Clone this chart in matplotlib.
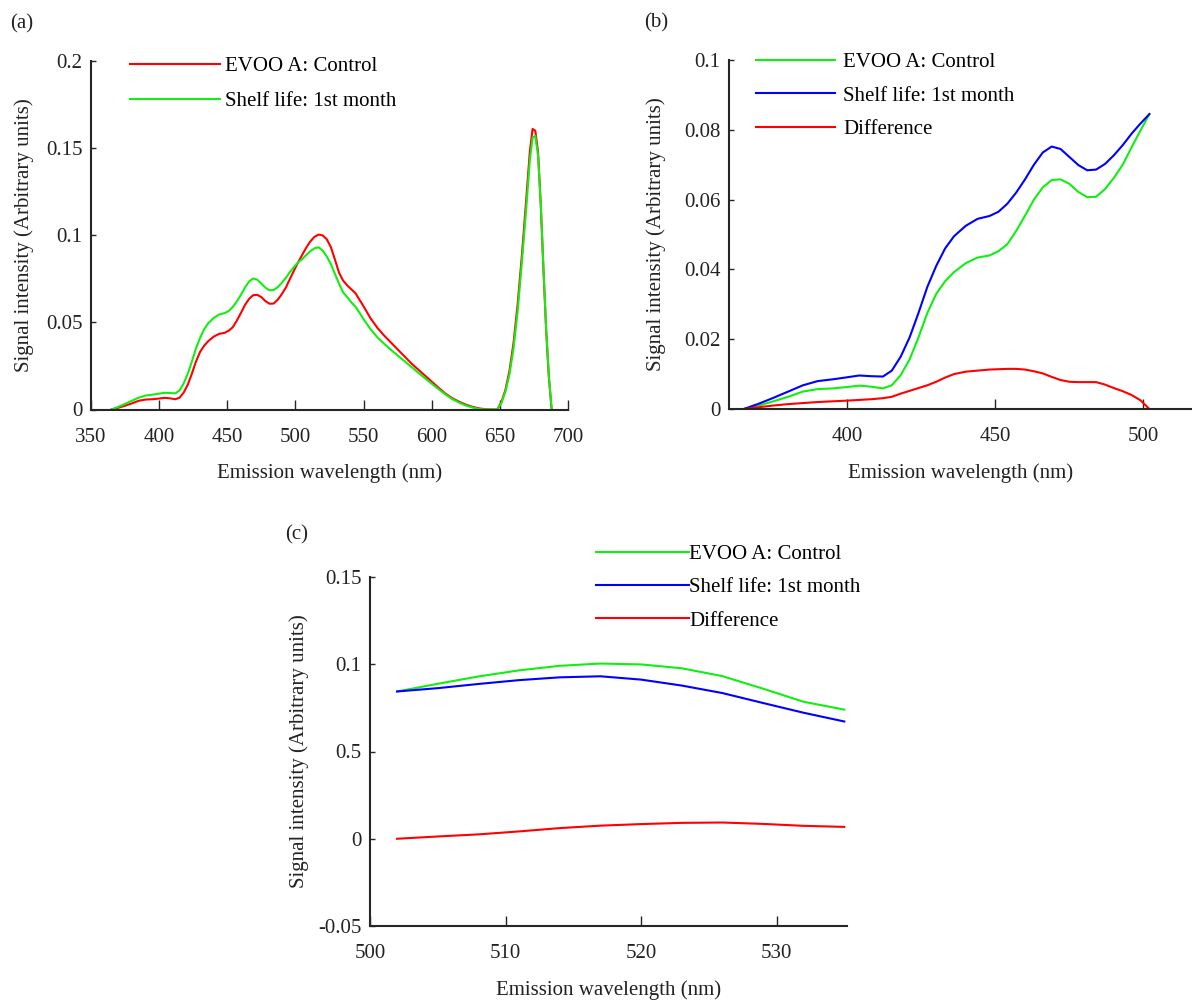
import numpy as np
import matplotlib
matplotlib.use("Agg")
import matplotlib.pyplot as plt

plt.rcParams['font.family'] = ['Liberation Serif', 'DejaVu Serif']

# --- data (emission wavelength in nm, intensity in arbitrary units)
# panel (b) range: 365 - 502 nm
wl_b = [365, 370, 375, 380, 385, 390, 395, 400, 404, 408, 412, 415, 418, 421, 424, 427,
        430, 433, 436, 440, 444, 448, 451, 454, 457, 460, 463, 466, 469, 472, 475, 478,
        481, 484, 487, 490, 493, 496, 499, 502]
control_b = [0, 0.0010, 0.0022, 0.0035, 0.0050, 0.0057, 0.0059, 0.0063, 0.0067, 0.0064,
             0.0059, 0.0068, 0.0097, 0.0142, 0.0205, 0.0275, 0.0330, 0.0366, 0.0392, 0.0418,
             0.0434, 0.0440, 0.0452, 0.0472, 0.0510, 0.0554, 0.0600, 0.0635, 0.0656, 0.0658,
             0.0645, 0.0622, 0.0607, 0.0608, 0.0630, 0.0662, 0.0700, 0.0750, 0.0798, 0.0845]
shelf_b = [0, 0.0015, 0.0032, 0.0050, 0.0068, 0.0080, 0.0085, 0.0091, 0.0096, 0.0094,
           0.0093, 0.0110, 0.0150, 0.0205, 0.0275, 0.0350, 0.0410, 0.0460, 0.0495, 0.0525,
           0.0545, 0.0553, 0.0565, 0.0588, 0.0620, 0.0658, 0.0700, 0.0735, 0.0752, 0.0745,
           0.0722, 0.0699, 0.0684, 0.0686, 0.0702, 0.0727, 0.0756, 0.0789, 0.0818, 0.0845]
diff_b = [0, 0.0005, 0.0010, 0.0014, 0.0017, 0.0020, 0.0022, 0.0024, 0.0026, 0.0028,
          0.0031, 0.0035, 0.0044, 0.0052, 0.0060, 0.0068, 0.0078, 0.0090, 0.0100, 0.0107,
          0.0110, 0.0113, 0.0114, 0.0115, 0.0115, 0.0113, 0.0108, 0.0102, 0.0092, 0.0083,
          0.0078, 0.0077, 0.0077, 0.0077, 0.0070, 0.0060, 0.0051, 0.0040, 0.0025, 0.0]

# panel (c) range: 502 - 535 nm
wl_c = [502, 505, 508, 511, 514, 517, 520, 523, 526, 529, 532, 535]
control_c = [0.0844, 0.0888, 0.0930, 0.0965, 0.0991, 0.1004, 0.0999, 0.0977, 0.0932,
             0.0860, 0.0785, 0.0740]
shelf_c = [0.0844, 0.0863, 0.0887, 0.0909, 0.0925, 0.0931, 0.0912, 0.0878, 0.0835,
           0.0778, 0.0722, 0.0672]
diff_c = [0.0, 0.0013, 0.0025, 0.0042, 0.0061, 0.0075, 0.0084, 0.0091, 0.0093, 0.0085,
          0.0074, 0.0068]

# rest of panel (a): 538 - 688 nm
wl_tail = [538, 541, 544, 547, 550, 555, 560, 565, 570, 575, 580, 585, 590, 595, 600, 605,
           610, 615, 620, 625, 630, 635, 640, 645, 648, 651, 654, 657, 660, 663, 666, 669,
           672, 674, 676, 678, 680, 682, 684, 686, 688]
control_tail = [0.0712, 0.0690, 0.0668, 0.0630, 0.0592, 0.0525, 0.0470, 0.0425, 0.0385,
                0.0345, 0.0305, 0.0265, 0.0230, 0.0195, 0.0160, 0.0125, 0.0092, 0.0065,
                0.0045, 0.0028, 0.0015, 0.0006, 0.0001, 0.0, 0.0, 0.0040, 0.0110, 0.0220,
                0.0380, 0.0600, 0.0870, 0.1170, 0.1480, 0.1610, 0.1600, 0.1480, 0.1180,
                0.0800, 0.0450, 0.0180, 0.0]
shelf_tail = [0.0645, 0.0615, 0.0590, 0.0555, 0.0518, 0.0462, 0.0415, 0.0378, 0.0343,
              0.0310, 0.0278, 0.0245, 0.0212, 0.0180, 0.0148, 0.0117, 0.0087, 0.0060,
              0.0040, 0.0023, 0.0011, 0.0003, 0.0, 0.0, 0.0, 0.0035, 0.0100, 0.0200,
              0.0350, 0.0560, 0.0830, 0.1120, 0.1430, 0.1560, 0.1570, 0.1460, 0.1180,
              0.0810, 0.0460, 0.0190, 0.0]

wl_a = wl_b + wl_c[1:] + wl_tail
control_a = control_b + control_c[1:] + control_tail
shelf_a = shelf_b + shelf_c[1:] + shelf_tail

RED, GREEN, BLUE = '#ff0000', '#12ee12', '#0000ff'
INK = '#262626'
FS = 15

W, H = 1192, 1002
fig = plt.figure(figsize=(W / 100, H / 100), dpi=100)


def px_axes(left, top, right, bottom):
    return fig.add_axes([left / W, 1 - bottom / H, (right - left) / W, (bottom - top) / H])


def style(ax, w_px, h_px, ylab_off, xlab_off=54):
    for s in ['top', 'right']:
        ax.spines[s].set_visible(False)
    for s in ['left', 'bottom']:
        ax.spines[s].set_linewidth(1.5)
        ax.spines[s].set_color(INK)
        ax.spines[s].set_clip_on(False)
    ax.tick_params(axis='both', direction='in', colors=INK, labelcolor='#222222',
                   labelsize=FS, width=1)
    ax.tick_params(axis='x', length=7, pad=13)
    ax.tick_params(axis='y', length=3.5, pad=6)
    ax.set_xlabel('Emission wavelength (nm)', fontsize=FS, color='#222222')
    ax.set_ylabel('Signal intensity (Arbitrary units)', fontsize=FS, color='#222222')
    ax.yaxis.set_label_coords(-ylab_off / w_px, 0.5)
    ax.xaxis.set_label_coords(0.5, -xlab_off / h_px)


def legend(ax, left, line_y, hlen_px, pad_px, spacing):
    fs_px = FS * 100 / 72
    ax.legend(loc='upper left', bbox_to_anchor=(left / W, 1 - (line_y - 6.5) / H),
              bbox_transform=fig.transFigure, frameon=False, fontsize=FS,
              borderpad=0, borderaxespad=0, handlelength=hlen_px / fs_px,
              handletextpad=pad_px / fs_px, labelspacing=spacing)


# (a)
ax_a = px_axes(91, 61, 568, 409.5)
ax_a.plot(wl_a, control_a, color=RED, lw=1.5, label='EVOO A: Control')
ax_a.plot(wl_a, shelf_a, color=GREEN, lw=1.5, label='Shelf life: 1st month')
ax_a.set_xlim(350, 700)
ax_a.set_ylim(0, 0.2)
ax_a.set_xticks([350, 400, 450, 500, 550, 600, 650, 700])
ax_a.set_yticks([0, 0.05, 0.1, 0.15, 0.2])
ax_a.set_yticklabels(['0', '0.05', '0.1', '0.15', '0.2'])
style(ax_a, 477, 348.5, 57)
legend(ax_a, 130, 63, 90, 5, 0.74)

# (b)
ax_b = px_axes(729, 60, 1192, 409)
ax_b.plot(wl_b, control_b, color=GREEN, lw=1.5, label='EVOO A: Control')
ax_b.plot(wl_b, shelf_b, color=BLUE, lw=1.5, label='Shelf life: 1st month')
ax_b.plot(wl_b, diff_b, color=RED, lw=1.5, label='Difference')
ax_b.set_xlim(360, 516.4)
ax_b.set_ylim(0, 0.1)
ax_b.set_xticks([400, 450, 500])
ax_b.set_yticks([0, 0.02, 0.04, 0.06, 0.08, 0.1])
ax_b.set_yticklabels(['0', '0.02', '0.04', '0.06', '0.08', '0.1'])
style(ax_b, 463, 349, 63)
legend(ax_b, 756, 59, 79, 8, 0.67)

# (c)
ax_c = px_axes(370, 577, 847, 926)
ax_c.plot(wl_c, control_c, color=GREEN, lw=1.5, label='EVOO A: Control')
ax_c.plot(wl_c, shelf_c, color=BLUE, lw=1.5, label='Shelf life: 1st month')
ax_c.plot(wl_c, diff_c, color=RED, lw=1.5, label='Difference')
ax_c.set_xlim(500, 535.2)
ax_c.set_ylim(-0.05, 0.15)
ax_c.set_xticks([500, 510, 520, 530])
ax_c.set_yticks([-0.05, 0, 0.05, 0.1, 0.15])
ax_c.set_yticklabels(['-0.05', '0', '0.5', '0.1', '0.15'])
style(ax_c, 477, 349, 61)
legend(ax_c, 596, 551, 93, 0, 0.66)

fig.text(22 / W, 1 - 24 / H, '(a)', fontsize=FS, ha='center', va='center', color='#222222')
fig.text(656 / W, 1 - 23 / H, '(b)', fontsize=FS, ha='center', va='center', color='#222222')
fig.text(297 / W, 1 - 535 / H, '(c)', fontsize=FS, ha='center', va='center', color='#222222')

fig.savefig('out.png', dpi=100)
